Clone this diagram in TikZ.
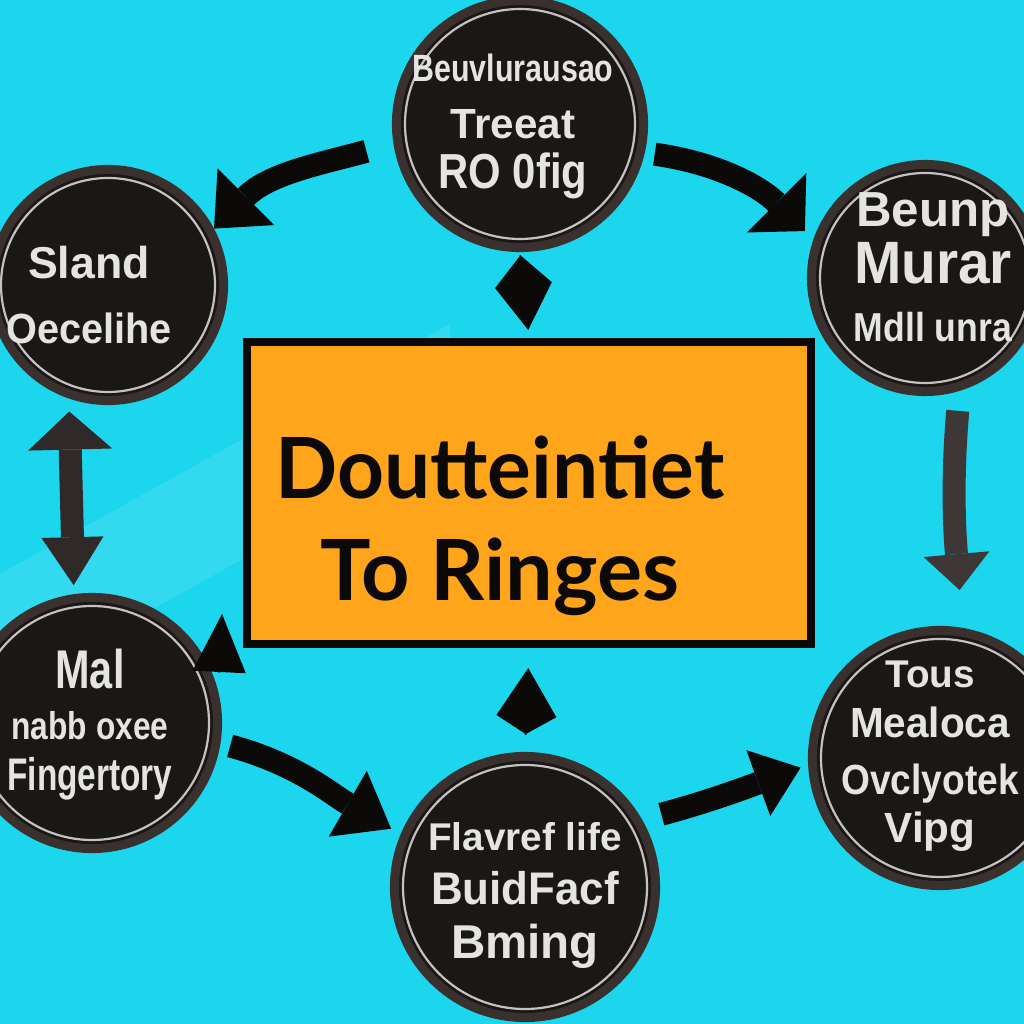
\documentclass[tikz,border=0pt]{standalone}
\usepackage{fontspec}
\setmainfont{Liberation Sans}
\newfontfamily\hubfont{Lato}
\usepackage{graphicx}
\usetikzlibrary{arrows.meta}

\newcommand{\sz}[1]{\fontsize{#1}{#1}\selectfont}
\newcommand{\squeeze}[2]{\scalebox{#1}[1]{#2}}

\definecolor{bgcyan}{RGB}{28,214,238}
\definecolor{hubfill}{RGB}{255,165,28}
\definecolor{inkblack}{RGB}{12,9,9}
\definecolor{discfill}{RGB}{27,23,22}
\definecolor{discrim}{RGB}{58,48,45}
\definecolor{chalk}{RGB}{228,228,226}
\definecolor{arrowgray}{RGB}{62,55,55}

\tikzset{
  disc/.style={circle, draw=discrim, line width=0.09cm, fill=discfill, inner sep=0pt},
  ringline/.style={draw=chalk!85!black, line width=0.022cm},
  disctext/.style={text=chalk, align=center, inner sep=0pt, anchor=north},
  hubbox/.style={rectangle, draw=inkblack, line width=0.08cm, fill=hubfill, inner sep=0pt,
    minimum width=5.64cm, minimum height=3.02cm},
  flow/.style={draw=inkblack, line width=0.23cm},
  headonly/.style={draw=inkblack, fill=inkblack, line width=0.4pt},
}

\begin{document}
\begin{tikzpicture}[x=0.01cm,y=0.01cm]
  \useasboundingbox (0,0) rectangle (1024,1024);
  \clip (0,0) rectangle (1024,1024);
  \fill[bgcyan] (0,0) rectangle (1024,1024);
  % faint light streak
  \fill[white,opacity=.10] (0,330) -- (0,450) -- (450,700) -- (450,580) -- cycle;

  % centre box
  \node[hubbox] (hub) at (529,531) {};
  \node[text=inkblack, font=\hubfont\bfseries\fontsize{24}{29}\selectfont, align=center,
    inner sep=0pt, anchor=north] (hubtitle) at (500,589) {\squeeze{.97}{Doutteintiet}\\To Ringes};

  % discs
  \foreach \n/\x/\y/\r in {top/520/900/128, lt/108/739/120, rt/925/746/118,
                           lb/92/301/130, rb/940/266/132, bot/525/137/135} {
    \pgfmathsetmacro\d{(2*\r-9)/100}
    \node[disc, minimum size=\d cm] (\n) at (\x,\y) {};
    \draw[ringline] (\n.center) circle[radius=\r-13];
  }

  % disc texts
  \node[disctext, font=\bfseries\fontsize{12}{14.2}\selectfont] (toptext) at (513,971)
    {{\sz{10.8}\squeeze{.8}{Beuvlurausao}}\\[2pt]{\sz{12}Treeat}\\{\sz{14}\squeeze{.85}{RO 0fig}}};
  \node[disctext, font=\bfseries\fontsize{12}{18.5}\selectfont] (lttext) at (89,779)
    {{\sz{12.7}Sland}\\{\squeeze{.94}{Oecelihe}}};
  \node[disctext, font=\bfseries\fontsize{12}{16.3}\selectfont] (rttext) at (933,832)
    {{\sz{14}Beunp}\\{\sz{17}\squeeze{.95}{Murar}}\\{\sz{11.5}\squeeze{.88}{Mdll unra}}};
  \node[disctext, font=\bfseries\fontsize{12}{14.6}\selectfont] (lbtext) at (90,376)
    {{\sz{15.5}\squeeze{.76}{Mal}}\\{\sz{11}\squeeze{.82}{nabb oxee}}\\{\sz{13}\squeeze{.73}{Fingertory}}};
  \node[disctext, font=\bfseries\fontsize{12}{14.2}\selectfont] (rbtext) at (930,364)
    {{\sz{11}Tous}\\{\squeeze{.96}{Mealoca}}\\[2pt]{\squeeze{.88}{Ovclyotek}}\\[-0.5pt]{Vipg}};
  \node[disctext, font=\bfseries\fontsize{12}{15.3}\selectfont] (bottext) at (525,202)
    {{\sz{11}Flavref life}\\{\sz{13}\squeeze{.96}{BuidFacf}}\\{\sz{13.5}Bming}};

  % cycle arrows
  \draw[flow, -{Triangle[length=0.45cm,width=0.8cm,line width=0pt]}, shorten <=0.28cm]
    (top.189) to[out=195,in=45] (lt.28);
  \draw[flow, -{Triangle[length=0.4cm,width=0.84cm,line width=0pt]}, shorten <=0.1cm, shorten >=0.12cm]
    (top.-13) to[out=-8,in=135] (rt.161);
  \draw[flow, draw=arrowgray, -{Triangle[length=0.36cm,width=0.66cm,line width=0pt]},
    shorten <=0.2cm, shorten >=0.38cm] (rt.-73) to[out=265,in=95] (rb.80);
  \draw[flow, draw=arrowgray!70!inkblack,
    {Triangle[length=0.38cm,width=0.84cm,line width=0pt]}-{Triangle[length=0.48cm,width=0.62cm,line width=0pt]},
    shorten <=0.13cm, shorten >=0.09cm] (lt.251) -- (lb.98);
  \draw[flow, -{Triangle[length=0.5cm,width=0.76cm,line width=0pt]}, shorten <=0.1cm, shorten >=0.11cm]
    (lb.-9) to[out=-15,in=150] (bot.157);
  \draw[flow, -{Triangle[length=0.45cm,width=0.7cm,line width=0pt]}, shorten <=0.2cm, shorten >=0.08cm]
    (bot.30) to[out=15,in=200] (rb.183);

  % short heads at the box
  \coordinate (hubtip) at (222,410);
  \draw[headonly, -{Kite[length=0.75cm,width=0.57cm,inset=0.3cm]}, shorten <=0.03cm, shorten >=0.08cm]
    (top.south) -- (hub.north);
  \draw[headonly, -{Kite[length=0.66cm,width=0.6cm,inset=0.18cm]}, shorten <=0.17cm, shorten >=0.2cm]
    (bot.north) -- (hub.south);
  \draw[headonly, -{Triangle[length=0.58cm,width=0.53cm]}, shorten <=0.19cm]
    (lb.14) -- (hubtip);
\end{tikzpicture}
\end{document}
